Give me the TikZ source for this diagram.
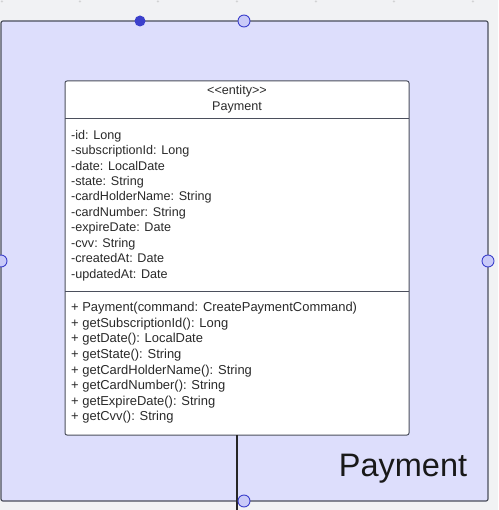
\documentclass[tikz,border=0pt]{standalone}
\usepackage{fontspec}
\setmainfont{Liberation Sans}
\definecolor{bgc}{HTML}{F1F2F4}
\definecolor{framefill}{HTML}{DDDEFC}
\definecolor{framedraw}{HTML}{4B4F5C}
\definecolor{handle}{HTML}{3C40CC}
\definecolor{handlefill}{HTML}{C9CAF8}
\definecolor{txt}{HTML}{2A2A2A}
\begin{document}
\begin{tikzpicture}[x=1pt,y=-1pt,
  grid dot/.style={text=gray!60,font=\fontsize{5}{5}\selectfont,inner sep=0pt},
  openhandle/.style={circle,draw=handle,fill=handlefill,line width=0.9pt,minimum size=12pt,inner sep=0pt},
  fullhandle/.style={circle,fill=handle,minimum size=11pt,inner sep=0pt},
  row/.style={anchor=base west,text=txt,font=\fontsize{12.6}{12.6}\selectfont,inner sep=0pt},
  mrow/.style={anchor=base west,text=txt,font=\fontsize{12.95}{12.95}\selectfont,inner sep=0pt},
  hrow/.style={anchor=base,text=txt,font=\fontsize{12.6}{12.6}\selectfont,inner sep=0pt}]
\fill[bgc] (0,0) rectangle (498,510);
\useasboundingbox (0,0) rectangle (498,510);
\foreach \i/\x in {0/2,1/80,2/158,3/237,4/316,5/394,6/473}
  \node[grid dot] (g\i) at (\x,2) {+};
% outer frame
\draw[framedraw,fill=framefill,line width=1.2pt,rounded corners=2pt] (1,21) rectangle (488,501);
\node[font=\fontsize{32.5}{32.5}\selectfont,text=black!90,inner sep=0pt] (title) at (403,469) {Payment};
% class box
\draw[framedraw,fill=white,line width=1pt,rounded corners=2pt] (65,81) rectangle (409,435);
\draw[framedraw,line width=1pt] (65,119) -- (409,119);
\draw[framedraw,line width=1pt] (65,291) -- (409,291);
\coordinate (boxbot) at (237,435);
\coordinate (lineend) at (237,512);
\draw[black!85,line width=1.2pt] (boxbot) -- (lineend);
\node[hrow] (stereo) at (237,95) {{<}{<}entity{>}{>}};
\node[hrow] (cname) at (237,110.5) {Payment};
\foreach \t [count=\k] in {-id: Long,-subscriptionId: Long,-date: LocalDate,-state: String,-cardHolderName: String,-cardNumber: String,-expireDate: Date,-cvv: String,-createdAt: Date,-updatedAt: Date}
  \node[row] (a\k) at (71,{139.2+(\k-1)*15.45}) {\t};
\foreach \t [count=\k] in {+ Payment(command: CreatePaymentCommand),+ getSubscriptionId(): Long,+ getDate(): LocalDate,+ getState(): String,+ getCardHolderName(): String,+ getCardNumber(): String,+ getExpireDate(): String,+ getCvv(): String}
  \node[mrow] (m\k) at (71,{311.8+(\k-1)*15.57}) {\t};
% handles
\node[fullhandle] (h1) at (140,21) {};
\node[openhandle] (h2) at (244,21) {};
\node[openhandle] (h3) at (1,261) {};
\node[openhandle] (h4) at (488,261) {};
\node[openhandle] (h5) at (244,501) {};
\end{tikzpicture}
\end{document}
